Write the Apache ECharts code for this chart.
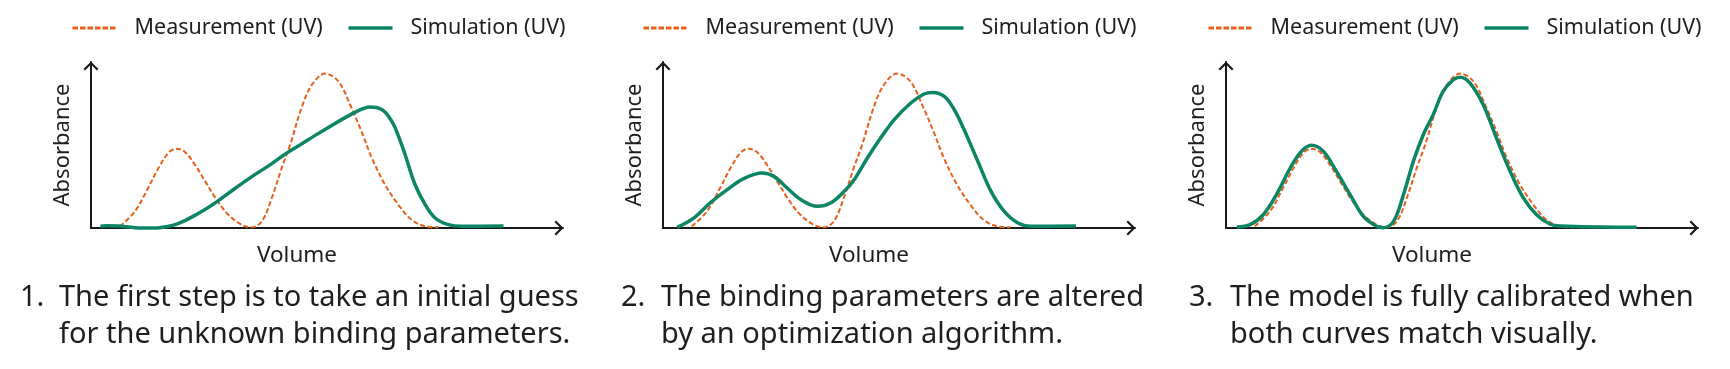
<!DOCTYPE html>
<html>
<head>
<meta charset="utf-8">
<script src="https://cdn.jsdelivr.net/npm/echarts@6/dist/echarts.min.js"></script>
<style>
  html, body { margin: 0; padding: 0; background: #ffffff; }
  #chart { width: 1730px; height: 369px; }
</style>
</head>
<body>
<div id="chart"></div>
<script>
// ---- data (arbitrary units, 0..100) ----
const seriesNames = ['Measurement (UV)', 'Simulation (UV)'];
const xAxisName = 'Volume';
const yAxisName = 'Absorbance';

// measured UV trace (same in all three panels)
const measurement = [
  [6.1, 1.0], [9.3, 10.0], [12.1, 24.1], [14.3, 36.1], [16.4, 45.2], [18.1, 47.8],
  [19.9, 45.8], [22.0, 38.2], [24.2, 28.1], [26.6, 17.1], [29.1, 8.0], [31.9, 2.0],
  [34.0, 0.4], [36.2, 4.0], [38.3, 18.1], [40.4, 36.1], [42.2, 50.2], [44.6, 72.3],
  [46.8, 86.3], [49.6, 93.0], [52.4, 88.4], [55.2, 72.3], [57.3, 58.2], [59.5, 42.2],
  [62.3, 26.1], [65.1, 14.1], [67.9, 5.0], [70.8, 1.0], [73.6, 0.4]
];

// step 1: initial guess
const simulation1 = [
  [2.0, 1.0], [3.3, 1.4], [5.8, 1.2], [9.3, 0.2], [13.6, 0.0], [16.0, 0.8],
  [18.0, 2.2], [20.0, 4.6], [22.0, 7.6], [24.0, 10.8], [27.0, 16.5], [30.5, 23.8],
  [34.0, 30.8], [37.6, 37.4], [41.1, 44.4], [44.6, 50.6], [48.2, 57.0], [51.7, 63.0],
  [55.2, 68.6], [57.5, 71.8], [59.0, 72.9], [60.5, 72.6], [61.8, 71.0], [63.0, 67.5],
  [64.4, 60.6], [66.5, 44.6], [68.6, 26.5], [70.8, 14.1], [72.9, 6.0], [75.7, 2.0],
  [78.5, 1.0], [87.4, 1.2]
];

// step 2: after optimization
const simulation2 = [
  [3.0, 0.4], [6.5, 6.0], [10.0, 15.1], [13.6, 23.1], [17.1, 29.7], [21.0, 33.1],
  [23.5, 31.1], [26.3, 24.1], [29.2, 17.1], [32.7, 13.1], [35.5, 15.1], [38.4, 22.1],
  [40.5, 29.1], [43.3, 42.2], [46.1, 54.2], [49.0, 65.3], [52.5, 75.3], [55.3, 80.7],
  [57.1, 81.7], [59.6, 79.3], [61.7, 71.3], [63.8, 59.2], [66.7, 40.2], [69.5, 22.1],
  [72.3, 10.0], [75.2, 3.0], [78.0, 1.0], [87.5, 1.2]
];

// step 3: calibrated
const simulation3 = [
  [2.3, 0.6], [5.1, 2.0], [7.9, 8.0], [10.7, 20.1], [13.6, 36.1], [16.0, 46.2],
  [18.1, 49.8], [20.6, 46.2], [23.4, 34.1], [26.3, 20.1], [29.1, 7.0], [31.9, 1.0],
  [33.3, 0.2], [35.5, 4.0], [37.6, 20.1], [39.7, 40.2], [41.8, 56.2], [43.9, 68.3],
  [46.0, 82.3], [48.2, 89.4], [49.6, 90.8], [51.7, 87.3], [54.5, 74.3], [57.3, 54.2],
  [60.2, 34.1], [63.0, 18.1], [65.8, 8.0], [68.6, 2.4], [70.8, 1.2], [87.0, 0.4]
];

const simulations = [simulation1, simulation2, simulation3];
const stepNumbers = ['1.', '2.', '3.'];
const captions = [
  ['The first step is to take an initial guess', 'for the unknown binding parameters.'],
  ['The binding parameters are altered', 'by an optimization algorithm.'],
  ['The model is fully calibrated when', 'both curves match visually.']
];

// ---- layout / style ----
const FONT = '"Noto Sans", "DejaVu Sans", sans-serif';
const TEXT = '#1e1e1e';
const ORANGE = '#E8601C';
const GREEN = '#0B8563';
const AXIS = '#1a1a1a';
const panels = [
  { gridLeft: 91,   legendLeft: 66,   numX: 20,   textX: 59 },
  { gridLeft: 663,  legendLeft: 637,  numX: 621,  textX: 661 },
  { gridLeft: 1226, legendLeft: 1202, numX: 1189, textX: 1230 }
];
const GRID_TOP = 62, GRID_W = 472, GRID_H = 166;
const chevron = 'path://M7.5,0 L15,7.5 L13.4,9 L7.5,3.1 L1.6,9 L0,7.5 Z';

const grids = [], xAxes = [], yAxes = [], series = [], legends = [], graphics = [];

panels.forEach((p, i) => {
  grids.push({ left: p.gridLeft, top: GRID_TOP, width: GRID_W, height: GRID_H, containLabel: false });
  const axisLine = {
    show: true,
    symbol: ['none', chevron],
    symbolSize: [15, 9],
    symbolOffset: [0, -4],
    lineStyle: { color: AXIS, width: 2 }
  };
  xAxes.push({
    gridIndex: i, type: 'value', min: 0, max: 100,
    axisLine: axisLine, axisTick: { show: false }, axisLabel: { show: false }, splitLine: { show: false },
    name: xAxisName, nameLocation: 'middle', nameGap: 16,
    nameTextStyle: { fontFamily: FONT, fontSize: 22.5, color: TEXT, padding: [0, 60, 0, 0] }
  });
  yAxes.push({
    gridIndex: i, type: 'value', min: 0, max: 100,
    axisLine: axisLine, axisTick: { show: false }, axisLabel: { show: false }, splitLine: { show: false },
    name: yAxisName, nameLocation: 'middle', nameGap: 17, nameRotate: 90,
    nameTextStyle: { fontFamily: FONT, fontSize: 22, color: TEXT }
  });
  series.push({
    name: seriesNames[0], type: 'line', xAxisIndex: i, yAxisIndex: i,
    data: measurement, smooth: 0.35, symbol: 'none', clip: false,
    lineStyle: { color: ORANGE, width: 2, type: [5, 2.5] }, itemStyle: { color: ORANGE },
    animation: false
  });
  series.push({
    name: seriesNames[1], type: 'line', xAxisIndex: i, yAxisIndex: i,
    data: simulations[i], smooth: 0.35, symbol: 'none', clip: false,
    lineStyle: { color: GREEN, width: 3.5 }, itemStyle: { color: GREEN },
    animation: false
  });
  legends.push({
    left: p.legendLeft, top: 12,
    itemWidth: 44, itemHeight: 14, itemGap: 24,
    data: [
      { name: seriesNames[0], itemStyle: { opacity: 0 }, lineStyle: { width: 3, type: [5.5, 2], color: ORANGE } },
      { name: seriesNames[1], itemStyle: { opacity: 0 }, lineStyle: { width: 3.5, color: GREEN } }
    ],
    textStyle: { fontFamily: FONT, fontSize: 21.5, color: TEXT, padding: [0, 0, 0, 13] },
    selectedMode: false
  });
  graphics.push({
    type: 'text', x: p.numX, y: 298,
    style: { text: stepNumbers[i], font: '29px ' + FONT, fill: TEXT, textVerticalAlign: 'middle' }
  });
  captions[i].forEach((line, j) => {
    graphics.push({
      type: 'text', x: p.textX, y: 298 + j * 37,
      style: { text: line, font: '29px ' + FONT, fill: TEXT, textVerticalAlign: 'middle' }
    });
  });
});

const chart = echarts.init(document.getElementById('chart'), null, { renderer: 'canvas' });
chart.setOption({
  backgroundColor: '#ffffff',
  animation: false,
  grid: grids,
  xAxis: xAxes,
  yAxis: yAxes,
  legend: legends,
  series: series,
  graphic: graphics
});
</script>
</body>
</html>
